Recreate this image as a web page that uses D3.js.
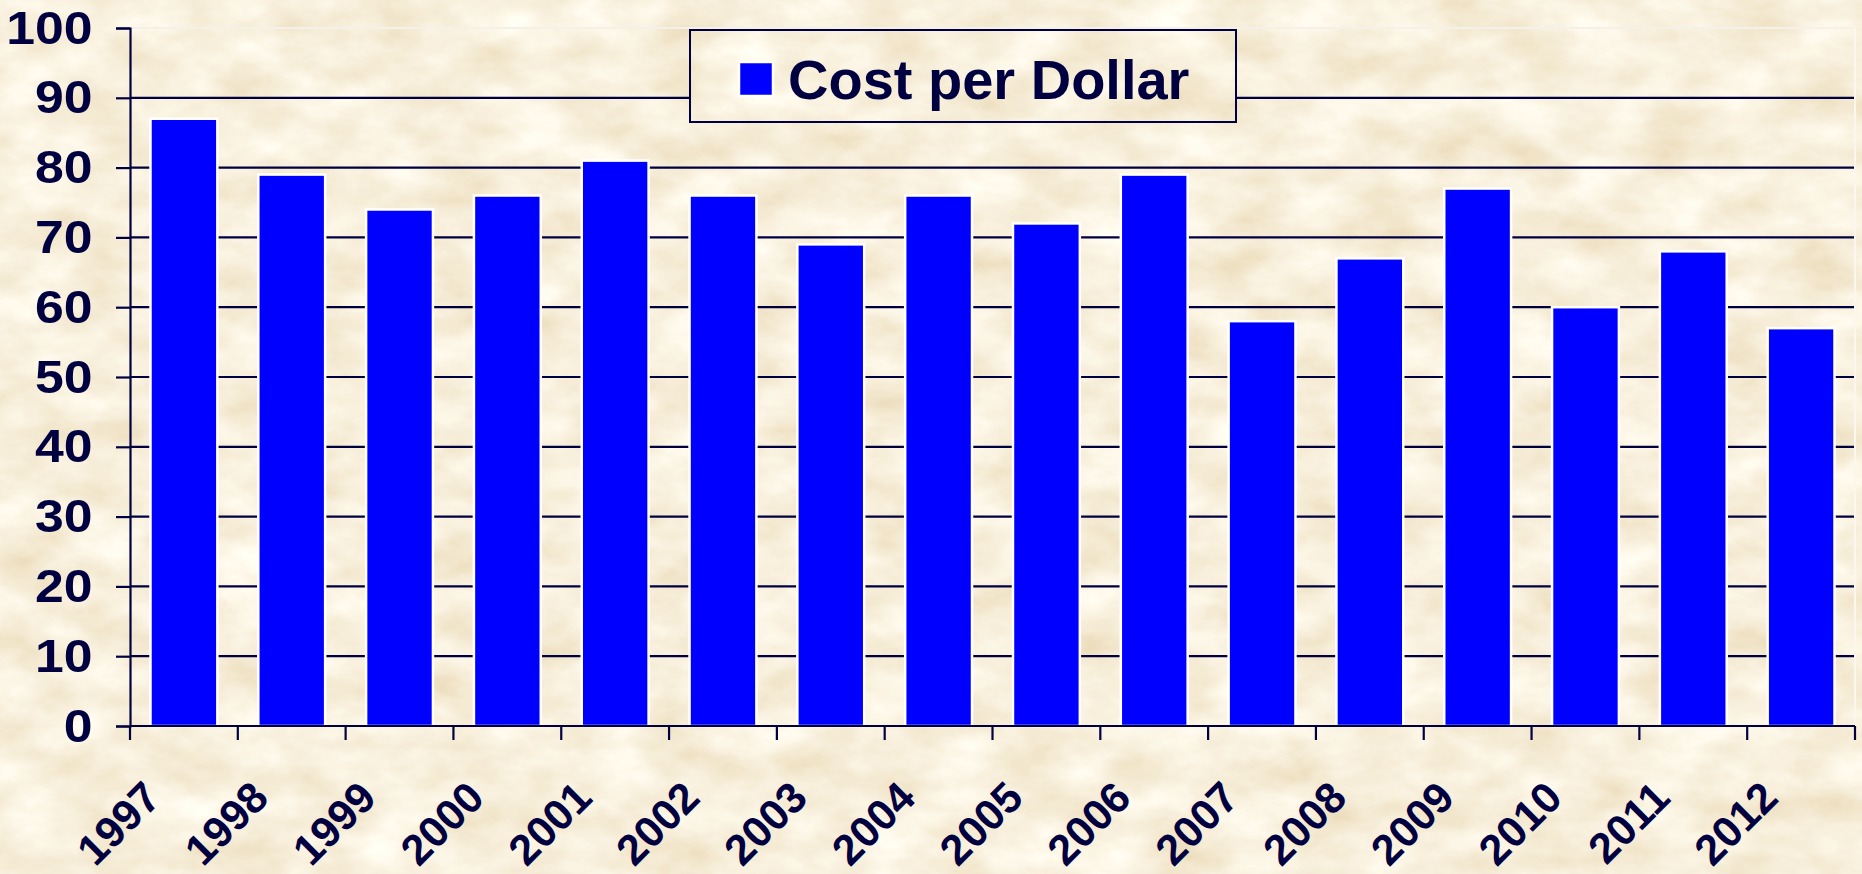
<!DOCTYPE html>
<html>
<head>
<meta charset="utf-8">
<script src="https://cdn.jsdelivr.net/npm/d3@7"></script>
<style>
  html, body { margin: 0; padding: 0; background: #efdcb5; }
  svg { display: block; }
</style>
</head>
<body>
<div id="container"></div>
<script>
// cost per dollar, 1997 - 2012
const years = ["1997", "1998", "1999", "2000", "2001", "2002", "2003", "2004",
               "2005", "2006", "2007", "2008", "2009", "2010", "2011", "2012"]
const costPerDollar = [87, 79, 74, 76, 81, 76, 69, 76, 72, 79, 58, 67, 77, 60, 68, 57]
const yTicks = [0, 10, 20, 30, 40, 50, 60, 70, 80, 90, 100]
const seriesName = "Cost per Dollar"

const w = 1862, h = 874
const plotL = 130, plotR = 1855, plotT = 28, plotB = 726
const ink = "#000040", font = "'Liberation Sans', Arial, sans-serif"

const svg = d3.select("#container").append("svg").attr("width", w).attr("height", h)

// parchment texture
const defs = svg.append("defs")
const paper = defs.append("filter").attr("id", "paper")
    .attr("filterUnits", "userSpaceOnUse").attr("x", 0).attr("y", 0).attr("width", w).attr("height", h)
paper.append("feTurbulence").attr("type", "fractalNoise").attr("baseFrequency", "0.014 0.024")
    .attr("numOctaves", 5).attr("seed", 7).attr("result", "noise")
paper.append("feColorMatrix").attr("in", "noise").attr("type", "matrix")
    .attr("values", "0.24 0 0 0 0.82  0.36 0 0 0 0.69  0.52 0 0 0 0.46  0 0 0 0 1").attr("result", "tint")
paper.append("feComposite").attr("in", "tint").attr("in2", "SourceGraphic").attr("operator", "in")

svg.append("rect").attr("width", w).attr("height", h).attr("fill", "#000").attr("filter", "url(#paper)")

const x = d3.scaleBand().domain(years).range([plotL, plotR]).paddingInner(0.38).paddingOuter(0.19)
const y = d3.scaleLinear().domain([0, 100]).range([plotB, plotT])

// gridlines
svg.append("g").selectAll("line")
    .data(yTicks.filter(d => d > 0 && d < 100))
    .enter().append("line")
    .attr("x1", plotL).attr("x2", plotR)
    .attr("y1", d => y(d)).attr("y2", d => y(d))
    .attr("stroke", ink).attr("stroke-width", 2.2)

// plot border top/right
svg.append("line").attr("x1", plotL).attr("x2", plotR).attr("y1", y(100)).attr("y2", y(100))
    .attr("stroke", "#f4f0ea").attr("stroke-width", 2)
svg.append("line").attr("x1", plotR).attr("x2", plotR).attr("y1", y(100)).attr("y2", y(0))
    .attr("stroke", "#fbf6ee").attr("stroke-width", 2)

// bars
svg.append("g").selectAll("rect")
    .data(costPerDollar)
    .enter().append("rect")
    .attr("x", (d, i) => x(years[i]))
    .attr("y", d => y(d))
    .attr("width", x.bandwidth())
    .attr("height", d => y(0) - y(d))
    .attr("fill", "#0000ff")
    .attr("stroke", "#ffffff").attr("stroke-width", 2.5)

// y axis
const yAxis = svg.append("g").attr("transform", `translate(${plotL},0)`)
    .call(d3.axisLeft(y).tickValues(yTicks).tickSize(14).tickPadding(20))
yAxis.select(".domain").attr("stroke", ink).attr("stroke-width", 2.2)
yAxis.selectAll(".tick line").attr("stroke", ink).attr("stroke-width", 2.2)
yAxis.selectAll(".tick text").attr("fill", ink).attr("font-family", font)
    .attr("font-size", 47).attr("font-weight", "bold")
    .attr("transform", "scale(1.1,1)")

// x axis, ticks on category boundaries
const step = x.step()
svg.append("line").attr("x1", plotL).attr("x2", plotR).attr("y1", y(0)).attr("y2", y(0))
    .attr("stroke", ink).attr("stroke-width", 2.2)
svg.append("g").selectAll("line")
    .data(d3.range(years.length + 1))
    .enter().append("line")
    .attr("x1", i => plotL + i * step).attr("x2", i => plotL + i * step)
    .attr("y1", y(0)).attr("y2", y(0) + 14)
    .attr("stroke", ink).attr("stroke-width", 2.2)

svg.append("g").selectAll("text")
    .data(years)
    .enter().append("text")
    .attr("transform", d => `translate(${x(d) + x.bandwidth() / 2 - 21}, ${y(0) + 74}) rotate(-45)`)
    .attr("text-anchor", "end")
    .attr("fill", ink).attr("font-family", font).attr("font-size", 43).attr("font-weight", "bold")
    .text(d => d)

// legend
const lg = svg.append("g")
lg.append("rect").attr("x", 690).attr("y", 30).attr("width", 546).attr("height", 92)
    .attr("fill", "#000").attr("filter", "url(#paper)")
lg.append("rect").attr("x", 690).attr("y", 30).attr("width", 546).attr("height", 92)
    .attr("fill", "none").attr("stroke", ink).attr("stroke-width", 2)
lg.append("rect").attr("x", 739).attr("y", 62).attr("width", 34).attr("height", 34)
    .attr("fill", "#0000ff").attr("stroke", "#ffffff").attr("stroke-width", 2.5)
lg.append("text").attr("x", 788).attr("y", 99)
    .attr("fill", ink).attr("font-family", font).attr("font-size", 56).attr("font-weight", "bold")
    .text(seriesName)
</script>
</body>
</html>
